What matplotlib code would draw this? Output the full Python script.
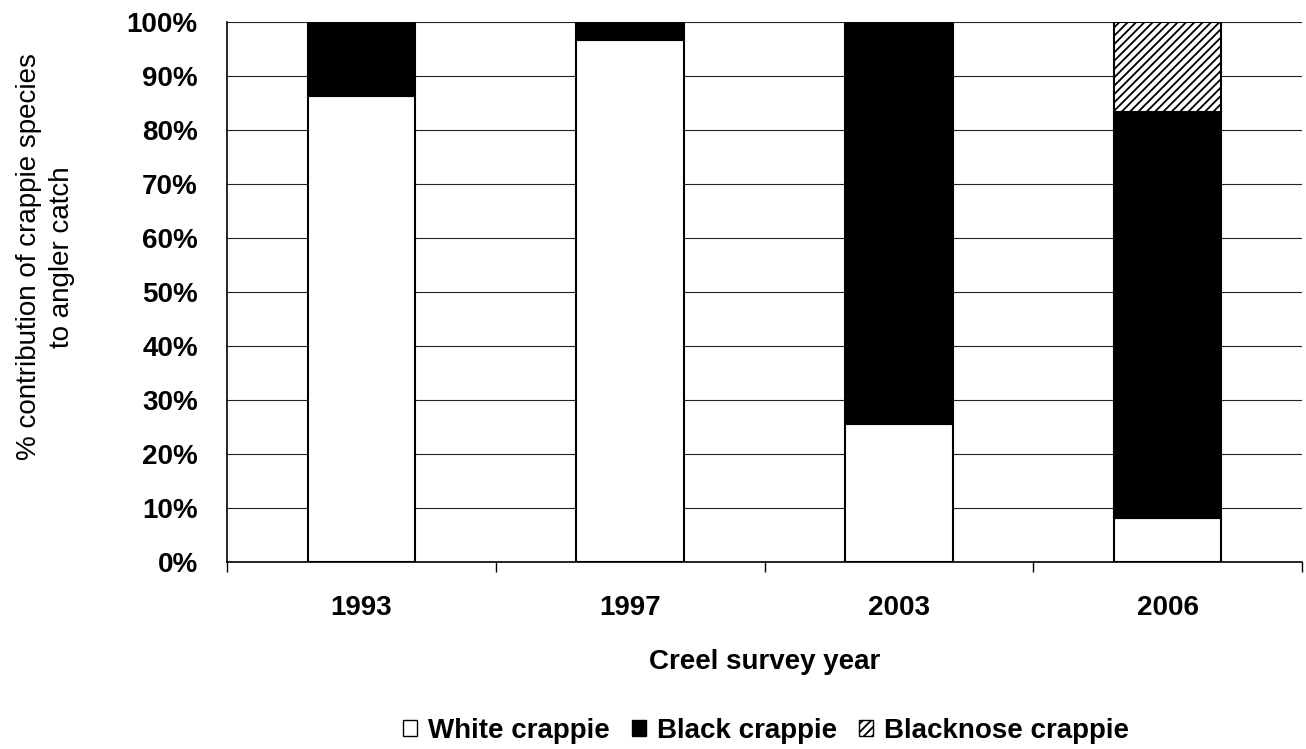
import matplotlib.pyplot as plt
import numpy as np
from matplotlib.patches import Patch

# survey data, % of angler catch
years = ["1993", "1997", "2003", "2006"]
white = [86.3, 96.7, 25.5, 8.1]
black = [13.7, 3.3, 74.5, 75.2]
blacknose = [0, 0, 0, 16.7]
yticks = [0, 10, 20, 30, 40, 50, 60, 70, 80, 90, 100]

plt.rcParams['font.family'] = ['Liberation Sans', 'DejaVu Sans']
plt.rcParams['hatch.linewidth'] = 1.3

fig = plt.figure(figsize=(13.06, 7.49), dpi=100)
ax = fig.add_axes([0.1738, 0.2497, 0.8232, 0.7209])

x = np.arange(len(years))
w = 0.40
ax.bar(x, white, w, color="white", edgecolor="black", linewidth=1.5, zorder=3)
ax.bar(x, black, w, bottom=white, color="black", edgecolor="black", linewidth=1.5, zorder=3)
bottom2 = np.array(white) + np.array(black)
ax.bar(x, blacknose, w, bottom=bottom2, color="white", edgecolor="black",
       hatch="////", linewidth=1.5, zorder=3)

ax.set_xlim(-0.5, len(years) - 0.5)
ax.set_ylim(0, 100)
ax.set_yticks(yticks)
ax.set_yticklabels([f"{t}%" for t in yticks], fontsize=20, fontweight="bold")
ax.yaxis.grid(True, color="#222222", linewidth=0.8, zorder=0)

# category labels, ticks at the boundaries
ax.set_xticks(x)
ax.set_xticklabels(years, fontsize=20, fontweight="bold")
ax.tick_params(axis="x", length=0, pad=24)
ax.set_xticks(np.arange(-0.5, len(years)), minor=True)
ax.tick_params(axis="x", which="minor", length=7, width=1, direction="out")
ax.tick_params(axis="y", length=0, pad=21)

for s in ["top", "right"]:
    ax.spines[s].set_visible(False)
ax.spines["left"].set_linewidth(1.2)
ax.spines["bottom"].set_linewidth(1.2)

ax.set_xlabel("Creel survey year", fontsize=20, fontweight="bold", labelpad=20)
ax.set_ylabel("% contribution of crappie species\nto angler catch", fontsize=20,
              labelpad=37, linespacing=1.38)
ax.yaxis.label.set_y(0.565)

handles = [Patch(facecolor="white", edgecolor="black", label="White crappie"),
           Patch(facecolor="black", edgecolor="black", label="Black crappie"),
           Patch(facecolor="white", edgecolor="black", hatch="////", label="Blacknose crappie")]
fig.legend(handles=handles, loc="center", bbox_to_anchor=(0.5865, 0.024), ncol=3,
           frameon=False, handlelength=0.5, handleheight=0.5, handletextpad=0.4,
           columnspacing=0.8, prop={"size": 20, "weight": "bold"})

fig.savefig("out.png", dpi=100)
